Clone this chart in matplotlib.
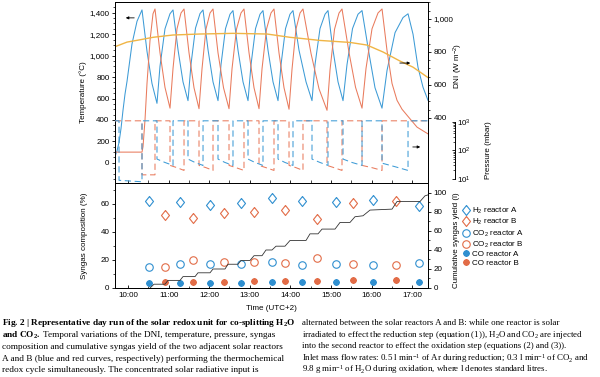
import matplotlib

matplotlib.use("Agg")
import matplotlib.pyplot as plt
from matplotlib.lines import Line2D
from matplotlib.ticker import FixedLocator, FuncFormatter, NullFormatter

plt.rcParams.update(
    {
        "font.family": "Liberation Sans",
        "font.size": 5.8,
        "mathtext.default": "regular",
        "axes.linewidth": 0.7,
        "xtick.major.width": 0.6,
        "ytick.major.width": 0.6,
        "xtick.minor.width": 0.5,
        "ytick.minor.width": 0.5,
        "xtick.labelsize": 5.8,
        "ytick.labelsize": 5.8,
    }
)

BLUE = "#3d9bd6"
RED = "#e97b5d"
GOLD = "#f0b545"
MBLUE = "#2f8fd0"
MRED = "#e26c47"

# time in decimal hours (UTC+2)
temp_a_time = [
    9.680, 9.729, 9.779, 9.828, 9.877, 9.926, 9.976, 10.099, 10.222, 10.345,
    10.468, 10.591, 10.714, 10.788, 10.911, 11.034, 11.109,
    11.232, 11.355, 11.478, 11.552, 11.663, 11.774, 11.848,
    11.971, 12.094, 12.217, 12.291, 12.402, 12.513, 12.586,
    12.710, 12.833, 12.956, 13.030, 13.141, 13.252, 13.325,
    13.449, 13.572, 13.695, 13.769, 13.880, 13.990, 14.064,
    14.212, 14.385, 14.532, 14.606, 14.729, 14.853, 14.926,
    15.050, 15.173, 15.296, 15.394, 15.530, 15.665, 15.764,
    15.936, 16.084, 16.256, 16.380, 16.577, 16.774, 16.897,
    17.020, 17.143, 17.266, 17.389,
]
temp_a = [
    60, 110, 190, 320, 490, 640, 760, 1110, 1320, 1426,
    1040, 740, 555, 900, 1250, 1390, 1426,
    1055, 755, 580, 920, 1257, 1392, 1426,
    1055, 755, 580, 916, 1252, 1386, 1420,
    1050, 755, 580, 916, 1252, 1386, 1420,
    1050, 755, 580, 916, 1252, 1386, 1420,
    1050, 755, 580, 916, 1252, 1386, 1420,
    1050, 755, 580, 916, 1252, 1386, 1420,
    1020, 700, 510, 862, 1214, 1355, 1390,
    1200, 890, 705, 583,
]
temp_b_time = [
    9.680, 10.345, 10.370, 10.419, 10.468, 10.542, 10.616, 10.665,
    10.788, 10.911, 11.035, 11.109, 11.207, 11.306, 11.380,
    11.503, 11.626, 11.749, 11.823, 11.921, 12.020, 12.094,
    12.217, 12.353, 12.488, 12.562, 12.673, 12.783, 12.857,
    12.981, 13.104, 13.227, 13.301, 13.412, 13.522, 13.596,
    13.720, 13.843, 13.966, 14.040, 14.138, 14.237, 14.310,
    14.508, 14.705, 14.902, 14.976, 15.087, 15.197, 15.271,
    15.444, 15.604, 15.764, 15.862, 16.010, 16.158, 16.257,
    16.380, 16.503, 16.626, 16.749, 16.872, 17.119, 17.389,
]
temp_b = [
    100, 100, 150, 400, 740, 1140, 1390, 1435,
    1028, 704, 510, 880, 1250, 1398, 1435,
    1026, 700, 505, 877, 1248, 1398, 1435,
    1026, 700, 505, 877, 1248, 1398, 1435,
    1026, 700, 505, 877, 1248, 1398, 1435,
    1023, 700, 500, 874, 1248, 1398, 1435,
    1020, 690, 490, 868, 1246, 1397, 1435,
    1028, 705, 510, 880, 1250, 1398, 1435,
    1046, 740, 583, 500, 444, 333, 270,
]

dni_time = [9.680, 9.976, 10.296, 10.616, 11.109, 11.774, 12.586, 13.424,
            13.990, 14.237, 14.729, 15.468, 15.887, 16.281, 16.700, 17.020, 17.389]
dni = [832, 860, 874, 889, 903, 909, 913, 909, 889, 883, 870, 858, 842, 800, 745, 708, 645]

press_a_time = [
    9.680, 9.779, 9.779, 10.049, 10.345, 10.345, 10.714, 10.714, 10.911, 11.109,
    11.109, 11.478, 11.478, 11.651, 11.848, 11.848, 12.217, 12.217, 12.389, 12.586,
    12.586, 12.956, 12.956, 13.128, 13.325, 13.325, 13.695, 13.695, 13.867, 14.064,
    14.064, 14.532, 14.532, 14.729, 14.926, 14.926, 15.296, 15.296, 15.517, 15.764,
    15.764, 16.256, 16.256, 16.577, 16.897, 16.897, 17.389,
]
press_a = [
    1100, 1100, 9, 8.5, 8, 1100, 1100, 50, 38, 30,
    1100, 1100, 50, 38, 30, 1100, 1100, 50, 38, 30,
    1100, 1100, 50, 38, 30, 1100, 1100, 50, 38, 30,
    1100, 1100, 50, 38, 30, 1100, 1100, 50, 38, 30,
    1100, 1100, 36, 27, 20, 1100, 1100,
]
press_b_time = [
    9.680, 10.345, 10.345, 10.665, 10.665, 11.035, 11.035, 11.207, 11.380, 11.380,
    11.749, 11.749, 11.921, 12.094, 12.094, 12.488, 12.488, 12.660, 12.857, 12.857,
    13.227, 13.227, 13.399, 13.596, 13.596, 13.966, 13.966, 14.138, 14.310, 14.310,
    14.902, 14.902, 15.074, 15.271, 15.271, 15.764, 15.764, 16.010, 16.257, 16.257,
    17.389,
]
press_b = [
    1100, 1100, 14, 14, 1100, 1100, 30, 25, 20, 1100,
    1100, 30, 25, 20, 1100, 1100, 30, 25, 20, 1100,
    1100, 30, 25, 20, 1100, 1100, 30, 25, 20, 1100,
    1100, 30, 25, 20, 1100, 1100, 30, 25, 20, 1100,
    1100,
]

# syngas composition samples (%)
sample_a_time = [10.517, 11.281, 12.020, 12.783, 13.547, 14.286, 15.123, 16.034, 17.168]
h2_a = [61.9, 61.2, 59.3, 60.5, 64.0, 62.4, 61.7, 62.9, 58.5]
co2_a = [14.8, 16.9, 16.9, 16.9, 18.8, 16.4, 16.9, 16.4, 18.1]
co_a = [3.3, 3.8, 3.3, 3.8, 4.5, 4.0, 4.0, 4.0, 4.0]
sample_b_time = [10.911, 11.601, 12.365, 13.104, 13.867, 14.655, 15.542, 16.601]
h2_b = [52.1, 49.8, 53.3, 54.0, 55.7, 49.0, 61.0, 62.4]
co2_b = [14.8, 20.0, 18.8, 18.3, 17.6, 21.2, 16.9, 16.4]
co_b = [4.0, 4.5, 4.5, 5.0, 5.0, 5.0, 5.7, 5.7]

# cumulative syngas yield (l)
yield_time = [
    10.542, 10.641, 10.911, 10.985, 11.281, 11.355, 11.651, 11.724, 12.020, 12.094,
    12.389, 12.463, 12.710, 12.783, 13.005, 13.104, 13.301, 13.399, 13.547, 13.646,
    13.867, 13.990, 14.384, 14.483, 14.680, 14.779, 15.099, 15.222, 15.468, 15.591,
    15.788, 15.961, 16.503, 16.626, 17.192, 17.315, 17.389,
]
yield_l = [
    0, 4, 4, 8, 8, 12, 12, 16, 16, 20,
    20, 25, 25, 29, 29, 34, 34, 40, 40, 44,
    44, 50, 50, 57, 57, 62, 62, 69, 69, 75,
    76, 82, 83, 91, 91, 97, 98,
]

hour_ticks = [10, 11, 12, 13, 14, 15, 16, 17]

W, H = 600, 377


def fig_box(x0, y0, x1, y1):
    return [x0 / W, 1 - y1 / H, (x1 - x0) / W, (y1 - y0) / H]


DIAMOND = [(0, 1), (0.8, 0), (0, -1), (-0.8, 0), (0, 1)]

fig = plt.figure(figsize=(6.0, 3.77), dpi=100)
ax_t = fig.add_axes(fig_box(115, 2, 428, 183))
ax_b = fig.add_axes(fig_box(115, 183, 428, 288), sharex=ax_t)

# ---- top panel: temperature, DNI, pressure
ax_t.plot(temp_a_time, temp_a, color=BLUE, lw=0.75)
ax_t.plot(temp_b_time, temp_b, color=RED, lw=0.75)
ax_t.set_xlim(9.680, 17.389)
ax_t.set_ylim(-188, 1500)
ax_t.yaxis.set_major_locator(FixedLocator(range(0, 1401, 200)))
ax_t.yaxis.set_minor_locator(FixedLocator(range(-150, 1500, 50)))
ax_t.yaxis.set_major_formatter(FuncFormatter(lambda v, _: f"{v:,.0f}"))
ax_t.tick_params(axis="y", which="major", length=2.5, pad=1.5)
ax_t.tick_params(axis="y", which="minor", length=1.3)
ax_t.xaxis.set_major_locator(FixedLocator(hour_ticks))
ax_t.xaxis.set_minor_locator(FixedLocator([h + 0.5 for h in range(9, 18)]))
ax_t.tick_params(axis="x", which="both", direction="inout", length=4, labelbottom=False)
ax_t.set_ylabel("Temperature (°C)")
ax_t.yaxis.set_label_coords(-0.089, 0.5)
ax_t.annotate("", xy=(9.877, 1352), xytext=(10.222, 1352),
              arrowprops=dict(arrowstyle="-|>", lw=0.6, color="black", mutation_scale=4))

ax_dni = ax_t.twinx()
ax_dni.plot(dni_time, dni, color=GOLD, lw=1.0)
ax_dni.set_ylim(6, 1103)
ax_dni.yaxis.set_major_locator(FixedLocator([400, 600, 800, 1000]))
ax_dni.yaxis.set_minor_locator(FixedLocator(range(400, 1101, 50)))
ax_dni.yaxis.set_major_formatter(FuncFormatter(lambda v, _: f"{v:,.0f}"))
ax_dni.tick_params(axis="y", which="major", length=2.5, pad=1.5)
ax_dni.tick_params(axis="y", which="minor", length=1.3)
ax_dni.set_ylabel("DNI (W m$^{-2}$)")
ax_dni.yaxis.set_label_coords(1.077, 0.645)
ax_dni.annotate("", xy=(17.020, 733), xytext=(16.626, 733),
                arrowprops=dict(arrowstyle="-|>", lw=0.6, color="black", mutation_scale=4))

ax_p = ax_t.twinx()
ax_p.plot(press_b_time, press_b, color=RED, lw=0.75, dashes=(6, 3.5))
ax_p.plot(press_a_time, press_a, color=BLUE, lw=0.75, dashes=(6, 3.5))
ax_p.set_yscale("log")
ax_p.set_ylim(7.24, 1.62e7)
for side in ("left", "top", "bottom"):
    ax_p.spines[side].set_visible(False)
ax_p.spines["right"].set_position(("outward", 19.4))
ax_p.spines["right"].set_bounds(10, 1000)
ax_p.yaxis.set_major_locator(FixedLocator([10, 100, 1000]))
ax_p.yaxis.set_major_formatter(FuncFormatter(lambda v, _: f"10$^{len(str(int(v))) - 1}$"))
ax_p.yaxis.set_minor_locator(FixedLocator([m * d for d in (10, 100) for m in range(2, 10)]))
ax_p.yaxis.set_minor_formatter(NullFormatter())
ax_p.tick_params(axis="y", which="major", direction="in", length=2.5, pad=1.5)
ax_p.tick_params(axis="y", which="minor", direction="in", length=1.3)
ax_p.set_ylabel("Pressure (mbar)")
ax_p.yaxis.set_label_coords(1.182, 0.18)
ax_p.annotate("", xy=(17.266, 133), xytext=(16.946, 133),
              arrowprops=dict(arrowstyle="-|>", lw=0.6, color="black", mutation_scale=4))

# ---- bottom panel: composition and cumulative yield
kw = dict(ls="none", mfc="none", mew=0.8)
ax_b.plot(sample_a_time, h2_a, marker=DIAMOND, ms=7.2, mec=MBLUE, **kw)
ax_b.plot(sample_b_time, h2_b, marker=DIAMOND, ms=7.2, mec=MRED, **kw)
ax_b.plot(sample_a_time, co2_a, marker="o", ms=5.4, mec=MBLUE, **kw)
ax_b.plot(sample_b_time, co2_b, marker="o", ms=5.4, mec=MRED, **kw)
ax_b.plot(sample_a_time, co_a, ls="none", marker=(8, 2, 0), ms=4.5, mew=1.4, color=MBLUE)
ax_b.plot(sample_b_time, co_b, ls="none", marker=(8, 2, 0), ms=4.5, mew=1.4, color=MRED)
ax_b.set_ylim(0, 75)
ax_b.yaxis.set_major_locator(FixedLocator([0, 20, 40, 60]))
ax_b.yaxis.set_minor_locator(FixedLocator([10, 30, 50, 70]))
ax_b.tick_params(axis="y", which="major", length=2.5, pad=1.5)
ax_b.tick_params(axis="y", which="minor", length=1.3)
ax_b.xaxis.set_major_locator(FixedLocator(hour_ticks))
ax_b.xaxis.set_major_formatter(FuncFormatter(lambda v, _: f"{int(round(v))}:00"))
ax_b.tick_params(axis="x", which="major", direction="in", length=2.5, pad=3, labelbottom=True)
ax_b.tick_params(axis="x", which="minor", direction="in", length=1.3)
ax_b.set_ylabel("Syngas composition (%)")
ax_b.yaxis.set_label_coords(-0.086, 0.5)
ax_b.set_xlabel("Time (UTC+2)", labelpad=4)

ax_c = ax_b.twinx()
ax_c.plot(yield_time, yield_l, color="#333333", lw=0.6)
ax_c.set_ylim(0, 110.5)
ax_c.yaxis.set_major_locator(FixedLocator(range(0, 101, 20)))
ax_c.yaxis.set_minor_locator(FixedLocator(range(10, 101, 20)))
ax_c.tick_params(axis="y", which="major", length=2.5, pad=1.5)
ax_c.tick_params(axis="y", which="minor", length=1.3)
ax_c.set_ylabel("Cumulative syngas yield (l)")
ax_c.yaxis.set_label_coords(1.08, 0.46)

handles = [
    Line2D([], [], marker=DIAMOND, ms=7.2, mec=MBLUE, **kw),
    Line2D([], [], marker=DIAMOND, ms=7.2, mec=MRED, **kw),
    Line2D([], [], marker="o", ms=5.4, mec=MBLUE, **kw),
    Line2D([], [], marker="o", ms=5.4, mec=MRED, **kw),
    Line2D([], [], ls="none", marker=(8, 2, 0), ms=4.5, mew=1.4, color=MBLUE),
    Line2D([], [], ls="none", marker=(8, 2, 0), ms=4.5, mew=1.4, color=MRED),
]
labels = ["H$_2$ reactor A", "H$_2$ reactor B", "CO$_2$ reactor A",
          "CO$_2$ reactor B", "CO reactor A", "CO reactor B"]
fig.legend(handles, labels, loc="upper left", bbox_to_anchor=(463 / W, 1 - 206 / H),
           frameon=False, fontsize=5.8, handlelength=0.7, handletextpad=0.45,
           labelspacing=0.12, borderpad=0, borderaxespad=0)

# ---- caption
CAP = dict(family="Liberation Serif", fontsize=6.7, va="center", ha="left")
fig.text(2 / W, 1 - 323 / H,
         "Fig. 2 | Representative day run of the solar redox unit for co-splitting H$_2$O",
         fontweight="bold", **CAP)
bold2 = fig.text(2 / W, 1 - 335 / H, "and CO$_2$.", fontweight="bold", **CAP)
renderer = fig.canvas.get_renderer()
bb = bold2.get_window_extent(renderer)
fig.text(bb.x1 / fig.bbox.width + 2.5 / W, 1 - 335 / H,
         "Temporal variations of the DNI, temperature, pressure, syngas", **CAP)
left_lines = [
    "composition and cumulative syngas yield of the two adjacent solar reactors",
    "A and B (blue and red curves, respectively) performing the thermochemical",
    "redox cycle simultaneously. The concentrated solar radiative input is",
]
for i, line in enumerate(left_lines):
    fig.text(2 / W, 1 - (347 + 11.6 * i) / H, line, **CAP)
CAP_R = dict(CAP, fontsize=6.4)
right_lines = [
    "alternated between the solar reactors A and B: while one reactor is solar",
    "irradiated to effect the reduction step (equation (1)), H$_2$O and CO$_2$ are injected",
    "into the second reactor to effect the oxidation step (equations (2) and (3)).",
    "Inlet mass flow rates: 0.5 l min$^{-1}$ of Ar during reduction; 0.3 l min$^{-1}$ of CO$_2$ and",
    "9.8 g min$^{-1}$ of H$_2$O during oxidation, where l denotes standard litres.",
]
for i, line in enumerate(right_lines):
    fig.text(302 / W, 1 - (323 + 11.7 * i) / H, line, **CAP_R)

fig.savefig("out.png", dpi=100)
